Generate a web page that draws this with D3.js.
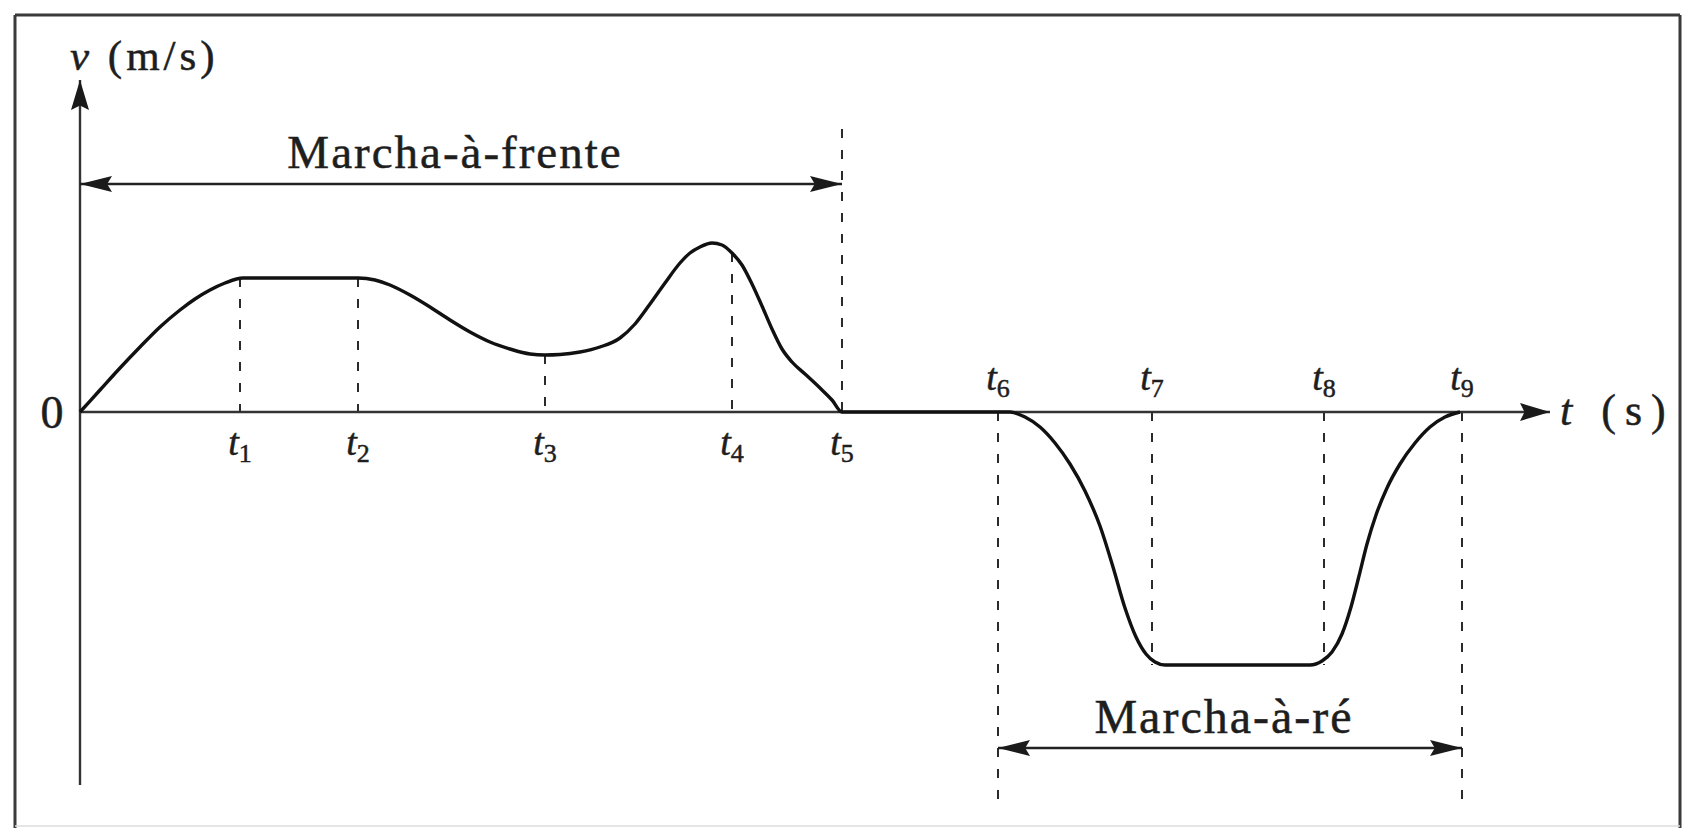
<!DOCTYPE html>
<html>
<head>
<meta charset="utf-8">
<script src="https://cdn.jsdelivr.net/npm/d3@7"></script>
<style>
  body { margin: 0; background: #fff; }
  svg { display: block; }
  text { font-family: "Liberation Serif", "Times New Roman", serif; fill: #1e1e1e; stroke: #1e1e1e; stroke-width: 0.5; }
</style>
</head>
<body>
<div id="chart"></div>
<script>
// 1: DATA (time in s-units, velocity in m/s-units)
const tMarks = [1.60, 2.78, 4.65, 6.52, 7.62, 9.18, 10.72, 12.44, 13.82];
const tSubs  = ["1", "2", "3", "4", "5", "6", "7", "8", "9"];
// dashed guide lines: from v = dashFrom to v = dashTo at each tMark
const dashFrom = [1.34, 1.34, 0.57, 1.59, 2.83, 0, 0, 0, 0];
const dashTo   = [0, 0, 0, 0, 0, -3.87, -2.53, -2.53, -3.87];

// speed-up, cruise, slow-down, speed-up again, stop
const fwdT = [0, 0.2, 0.4, 0.6, 0.8, 1.0, 1.15, 1.3, 1.45, 1.63,
              2.78, 2.95, 3.1, 3.3, 3.5, 3.7, 3.9, 4.1, 4.3, 4.5, 4.65,
              4.8, 5.0, 5.2, 5.4, 5.55, 5.7, 5.85, 6.0, 6.1, 6.2, 6.32,
              6.42, 6.52, 6.62, 6.72, 6.82, 6.92, 7.02, 7.12, 7.25, 7.4, 7.52, 7.62];
const fwdV = [0, 0.22, 0.44, 0.65, 0.85, 1.02, 1.13, 1.22, 1.29, 1.34,
              1.34, 1.32, 1.27, 1.17, 1.05, 0.92, 0.80, 0.70, 0.63, 0.58, 0.57,
              0.575, 0.60, 0.65, 0.74, 0.88, 1.08, 1.29, 1.49, 1.59, 1.65, 1.69,
              1.67, 1.59, 1.47, 1.28, 1.06, 0.83, 0.63, 0.50, 0.38, 0.24, 0.12, 0];
// standing still, then reversing
const revT = [9.30, 9.45, 9.6, 9.75, 9.9, 10.05, 10.2, 10.33, 10.45, 10.56, 10.66, 10.75, 10.85,
              12.30, 12.42, 12.52, 12.62, 12.71, 12.79, 12.87, 12.96, 13.07, 13.2, 13.35, 13.5, 13.65, 13.80];
const revV = [0, -0.05, -0.15, -0.31, -0.52, -0.79, -1.14, -1.55, -1.96, -2.25, -2.42, -2.50, -2.53,
              -2.53, -2.49, -2.40, -2.22, -1.95, -1.64, -1.32, -1.03, -0.76, -0.52, -0.31, -0.15, -0.05, 0];

const forwardSpan = [0, 7.62];
const reverseSpan = [9.18, 13.82];
const forwardLevel = 2.28;
const reverseLevel = -3.36;

// 2: SVG
const W = 1682, H = 828;
const svg = d3.select("#chart").append("svg")
    .attr("width", W).attr("height", H);

const x = d3.scaleLinear().domain([0, 14.7]).range([80, 1550]);
const y = d3.scaleLinear().domain([-3.73, 3.32]).range([785, 80]);

// arrow heads
const defs = svg.append("defs");
function marker(id, len, wid) {
    defs.append("marker")
        .attr("id", id)
        .attr("markerUnits", "userSpaceOnUse")
        .attr("viewBox", `0 ${-wid / 2} ${len} ${wid}`)
        .attr("refX", len).attr("refY", 0)
        .attr("markerWidth", len).attr("markerHeight", wid)
        .attr("orient", "auto-start-reverse")
        .append("path")
        .attr("d", `M0,${-wid / 2}L${len},0L0,${wid / 2}L${len * 0.15},0Z`)
        .attr("fill", "#1a1a1a");
}
marker("axisHead", 30, 18);
marker("spanHead", 32, 16);

// frame
const frame = svg.append("g").attr("stroke", "#3a3a3a").attr("stroke-width", 3);
frame.append("line").attr("x1", 15).attr("y1", 15).attr("x2", 1680).attr("y2", 15);
frame.append("line").attr("x1", 15).attr("y1", 15).attr("x2", 15).attr("y2", 828);
frame.append("line").attr("x1", 1680).attr("y1", 15).attr("x2", 1680).attr("y2", 828);
frame.append("line").attr("x1", 15).attr("y1", 826).attr("x2", 1680).attr("y2", 826)
    .attr("stroke", "#ddd").attr("stroke-width", 1.5);

// 3: DASHED GUIDES
svg.append("g").selectAll("line")
    .data(tMarks)
    .enter().append("line")
    .attr("x1", d => x(d)).attr("x2", d => x(d))
    .attr("y1", (d, i) => y(dashFrom[i]))
    .attr("y2", (d, i) => y(dashTo[i]))
    .attr("stroke", "#2a2a2a")
    .attr("stroke-width", 2)
    .attr("stroke-dasharray", "9,12");

// 4: AXES
svg.append("line")
    .attr("x1", x(0)).attr("y1", y(0)).attr("x2", x(14.7)).attr("y2", y(0))
    .attr("stroke", "#333").attr("stroke-width", 2.4)
    .attr("marker-end", "url(#axisHead)");
svg.append("line")
    .attr("x1", x(0)).attr("y1", y(-3.73)).attr("x2", x(0)).attr("y2", y(3.32))
    .attr("stroke", "#333").attr("stroke-width", 2.4)
    .attr("marker-end", "url(#axisHead)");

// 5: CURVE
const pts = fwdT.map((t, i) => [t, fwdV[i]])
    .concat(revT.map((t, i) => [t, revV[i]]));
svg.append("path")
    .datum(pts)
    .attr("d", d3.line().x(d => x(d[0])).y(d => y(d[1])).curve(d3.curveMonotoneX))
    .attr("fill", "none")
    .attr("stroke", "#111")
    .attr("stroke-width", 3.4)
    .attr("stroke-linejoin", "round");

// 6: SPAN ARROWS + LABELS
function span(range, level, label, dy, size) {
    svg.append("line")
        .attr("x1", x(range[0])).attr("x2", x(range[1]))
        .attr("y1", y(level)).attr("y2", y(level))
        .attr("stroke", "#222").attr("stroke-width", 2.4)
        .attr("marker-start", "url(#spanHead)")
        .attr("marker-end", "url(#spanHead)");
    svg.append("text")
        .attr("x", (x(range[0]) + x(range[1])) / 2 - 6)
        .attr("y", y(level) + dy)
        .attr("text-anchor", "middle")
        .attr("font-size", size)
        .attr("letter-spacing", 2)
        .text(label);
}
span(forwardSpan, forwardLevel, "Marcha-à-frente", -16, 47);
span(reverseSpan, reverseLevel, "Marcha-à-ré", -15, 48);

// t labels
const tl = svg.append("g").selectAll("text")
    .data(tMarks)
    .enter().append("text")
    .attr("x", d => x(d))
    .attr("y", (d, i) => i < 5 ? y(0) + 43 : y(0) - 22)
    .attr("text-anchor", "middle")
    .attr("font-size", 38);
tl.append("tspan").attr("font-style", "italic").text("t");
tl.append("tspan").attr("font-size", 26).attr("dy", 7).text((d, i) => tSubs[i]);

// origin and axis titles
svg.append("text")
    .attr("x", 52).attr("y", y(0) + 16)
    .attr("text-anchor", "middle")
    .attr("font-size", 46)
    .text("0");

const yTitle = svg.append("text")
    .attr("x", 70).attr("y", 70)
    .attr("font-size", 43)
    .attr("letter-spacing", 4);
yTitle.append("tspan").attr("font-style", "italic").text("v");
yTitle.append("tspan").text(" (m/s)");

const xTitle = svg.append("text")
    .attr("x", 1560).attr("y", y(0) + 13)
    .attr("font-size", 44)
    .attr("letter-spacing", 9);
xTitle.append("tspan").attr("font-style", "italic").text("t");
xTitle.append("tspan").text(" (s)");
</script>
</body>
</html>
